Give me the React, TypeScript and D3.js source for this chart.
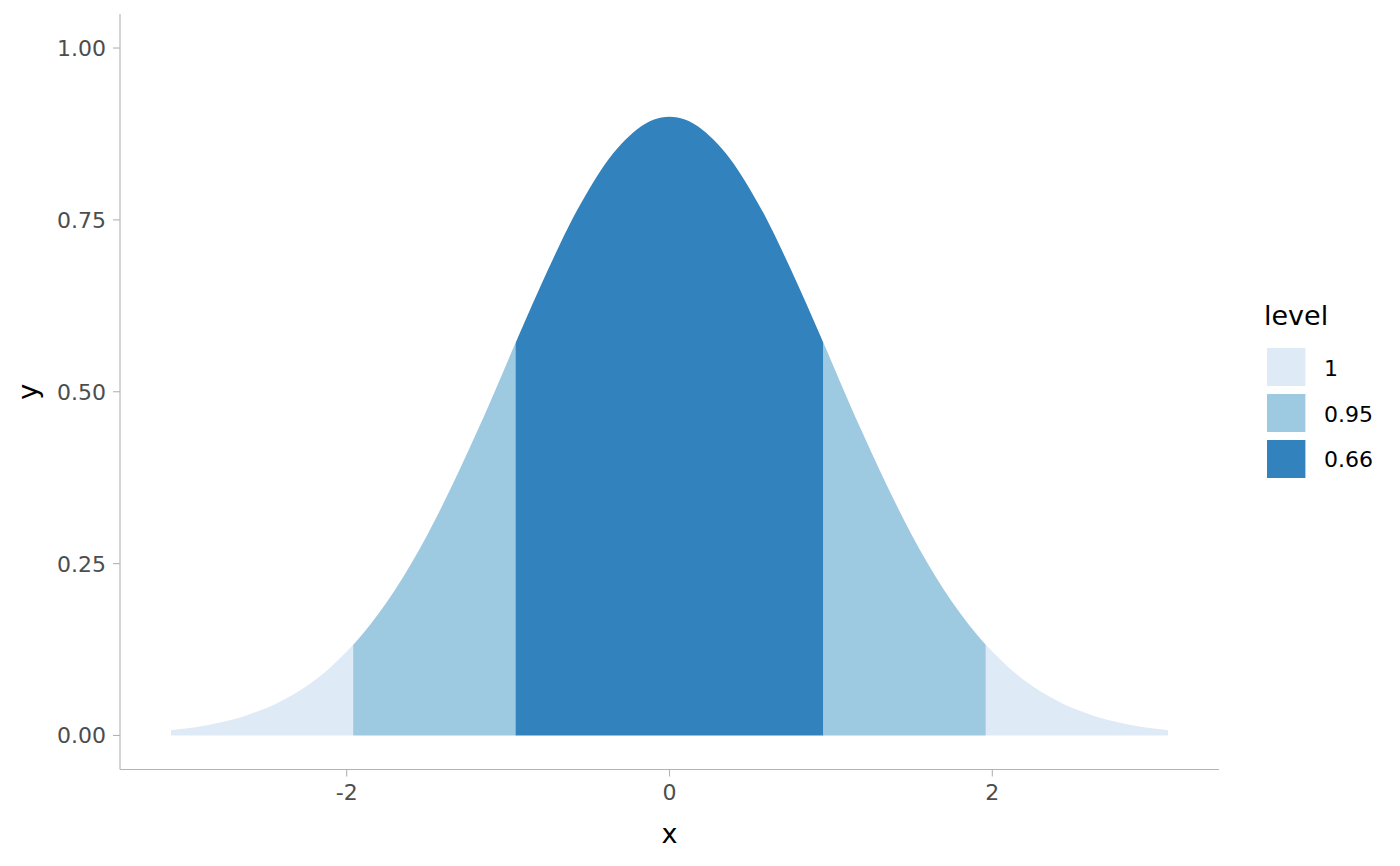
import React from "react";
import * as d3 from "d3";

// density curve (x, y)
const curveX = [-3.09, -3.0, -2.9, -2.8, -2.7, -2.6, -2.5, -2.4, -2.3, -2.2, -2.1, -2.0, -1.9, -1.8, -1.7, -1.6, -1.5, -1.4, -1.3, -1.2, -1.1, -1.0, -0.9, -0.8, -0.7, -0.6, -0.5, -0.4, -0.3, -0.2, -0.1, 0, 0.1, 0.2, 0.3, 0.4, 0.5, 0.6, 0.7, 0.8, 0.9, 1.0, 1.1, 1.2, 1.3, 1.4, 1.5, 1.6, 1.7, 1.8, 1.9, 2.0, 2.1, 2.2, 2.3, 2.4, 2.5, 2.6, 2.7, 2.8, 2.9, 3.0, 3.09];
const curveY = [0.0076, 0.010, 0.0134, 0.018, 0.0235, 0.031, 0.0395, 0.051, 0.0639, 0.080, 0.0993, 0.122, 0.148, 0.178, 0.212, 0.250, 0.292, 0.338, 0.387, 0.438, 0.491, 0.546, 0.600, 0.653, 0.704, 0.752, 0.794, 0.831, 0.860, 0.882, 0.8955, 0.900, 0.8955, 0.882, 0.860, 0.831, 0.794, 0.752, 0.704, 0.653, 0.600, 0.546, 0.491, 0.438, 0.387, 0.338, 0.292, 0.250, 0.212, 0.178, 0.148, 0.122, 0.0993, 0.080, 0.0639, 0.051, 0.0395, 0.031, 0.0235, 0.018, 0.0134, 0.010, 0.0076];

// interval bands
const levels = ["1", "0.95", "0.66"];
const levelColors = ["#DEEBF7", "#9ECAE1", "#3182BD"];
const bandLevel = ["1", "0.95", "0.66", "0.95", "1"];
const bandStart = [-3.09, -1.96, -0.954, 0.954, 1.96];
const bandEnd = [-1.96, -0.954, 0.954, 1.96, 3.09];

const xTicks = [-2, 0, 2];
const yTicks = [0, 0.25, 0.5, 0.75, 1.0];

export default function App() {
  const W = 1400, H = 866;
  const left = 120, right = 1219, top = 14, bottom = 769.5;
  const x = d3.scaleLinear().domain([-3.4045, 3.4045]).range([left, right]);
  const y = d3.scaleLinear().domain([-0.0495, 1.0495]).range([bottom, top]);
  const pts = curveX.map((v, i) => [v, curveY[i]] as [number, number]);
  const area = d3
    .area<[number, number]>()
    .x((d) => x(d[0]))
    .y0(y(0))
    .y1((d) => y(d[1]))
    .curve(d3.curveMonotoneX);
  const path = area(pts) || "";
  const colorOf = (l: string) => levelColors[levels.indexOf(l)];
  const font = "DejaVu Sans, sans-serif";
  const axisColor = "#B3B3B3";
  const tickColor = "#4D4D4D";

  return (
    <svg width={W} height={H} style={{ position: "absolute", left: 0, top: 0 }} fontFamily={font}>
      <rect x={0} y={0} width={W} height={H} fill="#fff" />
      <defs>
        {bandStart.map((s, i) => (
          <clipPath id={`band${i}`} key={i}>
            <rect x={x(s)} y={top} width={x(bandEnd[i]) - x(s)} height={bottom - top} />
          </clipPath>
        ))}
      </defs>
      {bandStart.map((s, i) => (
        <path key={i} d={path} fill={colorOf(bandLevel[i])} clipPath={`url(#band${i})`} />
      ))}
      {/* axes */}
      <line x1={left} x2={left} y1={top} y2={bottom} stroke={axisColor} strokeWidth={1.1} />
      <line x1={left} x2={right} y1={bottom} y2={bottom} stroke={axisColor} strokeWidth={1.1} />
      {yTicks.map((t) => (
        <g key={t}>
          <line x1={left - 7} x2={left} y1={y(t)} y2={y(t)} stroke={axisColor} strokeWidth={1.1} />
          <text x={left - 14} y={y(t)} dy="0.36em" textAnchor="end" fontSize={22} fill={tickColor}>
            {t.toFixed(2)}
          </text>
        </g>
      ))}
      {xTicks.map((t) => (
        <g key={t}>
          <line x1={x(t)} x2={x(t)} y1={bottom} y2={bottom + 7} stroke={axisColor} strokeWidth={1.1} />
          <text x={x(t)} y={800} textAnchor="middle" fontSize={22} fill={tickColor}>
            {String(t)}
          </text>
        </g>
      ))}
      <text x={(left + right) / 2} y={843} textAnchor="middle" fontSize={27} fill="#000">x</text>
      <text transform={`translate(37,${(top + bottom) / 2}) rotate(-90)`} textAnchor="middle" fontSize={27} fill="#000">y</text>
      {/* legend */}
      <text x={1264} y={325} fontSize={27} fill="#000">level</text>
      {levels.map((l, i) => (
        <g key={l}>
          <rect x={1267} y={348 + i * 46} width={38.4} height={38} fill={levelColors[i]} />
          <text x={1324} y={376 + i * 45.5} fontSize={22} fill="#000">{l}</text>
        </g>
      ))}
    </svg>
  );
}
